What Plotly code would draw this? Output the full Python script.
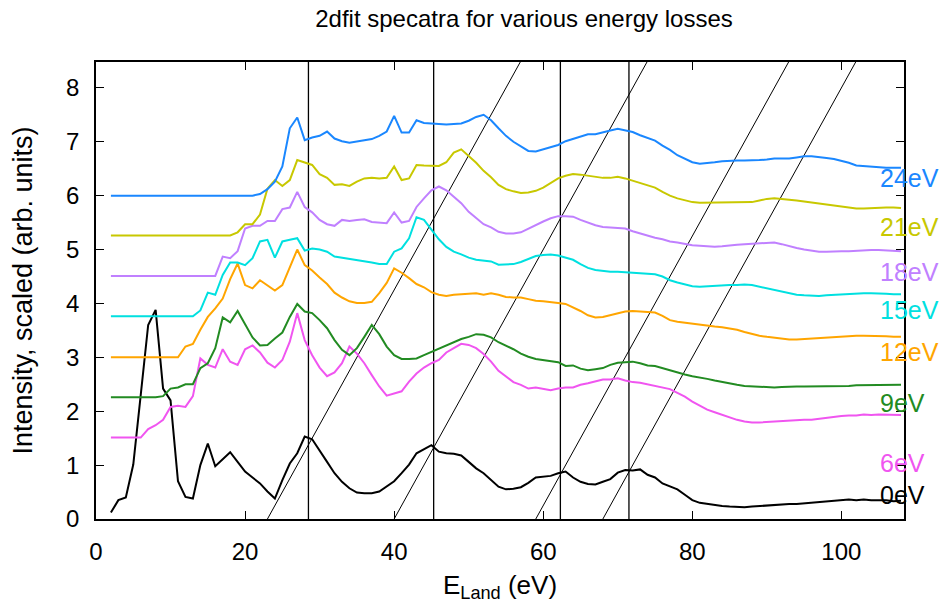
import plotly.graph_objects as go

# Landing energies (eV) of the sampled spectra
e_land = list(range(2, 109))

# Spectra (already offset by loss/4 along the intensity axis)
s_0ev = [
    0.12, 0.35, 0.40, 1.01, 2.30, 3.60, 3.88, 2.42, 2.20, 0.70,
    0.41, 0.38, 1.00, 1.40, 0.98, 1.11, 1.24, 1.06, 0.88, 0.77,
    0.66, 0.51, 0.38, 0.72, 1.03, 1.22, 1.53, 1.48, 1.28, 1.06,
    0.85, 0.69, 0.57, 0.49, 0.48, 0.48, 0.51, 0.60, 0.70, 0.85,
    1.01, 1.22, 1.29, 1.37, 1.25, 1.22, 1.21, 1.18, 1.06, 0.94,
    0.85, 0.72, 0.60, 0.55, 0.56, 0.59, 0.67, 0.77, 0.79, 0.80,
    0.85, 0.88, 0.77, 0.69, 0.65, 0.64, 0.69, 0.74, 0.86, 0.91,
    0.90, 0.92, 0.82, 0.77, 0.66, 0.60, 0.55, 0.45, 0.35, 0.30,
    0.28, 0.25, 0.24, 0.23, 0.22, 0.22, 0.23, 0.24, 0.25, 0.27,
    0.27, 0.28, 0.28, 0.29, 0.30, 0.31, 0.32, 0.33, 0.35, 0.36,
    0.35, 0.36, 0.35, 0.35, 0.35, 0.33, 0.34,
]
s_6ev = [
    1.51, 1.51, 1.51, 1.51, 1.51, 1.67, 1.74, 1.84, 2.08, 2.10,
    2.08, 2.28, 2.98, 2.86, 2.81, 3.15, 2.92, 2.86, 3.15, 3.22,
    3.09, 2.90, 2.81, 2.95, 3.29, 3.82, 3.32, 3.04, 2.81, 2.65,
    2.72, 2.89, 3.20, 3.07, 2.89, 2.67, 2.46, 2.29, 2.33, 2.37,
    2.55, 2.70, 2.81, 2.89, 2.95, 3.09, 3.17, 3.25, 3.23, 3.17,
    3.06, 2.92, 2.75, 2.64, 2.54, 2.49, 2.42, 2.44, 2.41, 2.39,
    2.42, 2.44, 2.44, 2.49, 2.52, 2.56, 2.59, 2.59, 2.61, 2.57,
    2.54, 2.53, 2.50, 2.47, 2.44, 2.41, 2.34, 2.27, 2.18, 2.10,
    2.03, 1.98, 1.93, 1.88, 1.84, 1.81, 1.79, 1.79, 1.80, 1.81,
    1.81, 1.82, 1.83, 1.84, 1.84, 1.86, 1.87, 1.90, 1.91, 1.92,
    1.92, 1.94, 1.93, 1.94, 1.94, 1.93, 1.93,
]
s_9ev = [
    2.26, 2.26, 2.26, 2.26, 2.26, 2.26, 2.26, 2.28, 2.42, 2.44,
    2.50, 2.50, 2.80, 2.89, 3.17, 3.74, 3.65, 3.86, 3.60, 3.37,
    3.22, 3.23, 3.35, 3.46, 3.75, 3.99, 3.85, 3.82, 3.69, 3.54,
    3.32, 3.14, 3.04, 3.17, 3.38, 3.60, 3.43, 3.20, 3.04, 2.97,
    2.97, 2.98, 3.04, 3.10, 3.17, 3.22, 3.29, 3.34, 3.38, 3.43,
    3.42, 3.37, 3.28, 3.22, 3.15, 3.07, 3.01, 2.97, 2.95, 2.94,
    2.91, 2.84, 2.85, 2.79, 2.76, 2.78, 2.80, 2.86, 2.90, 2.91,
    2.92, 2.89, 2.85, 2.84, 2.80, 2.75, 2.72, 2.68, 2.65, 2.63,
    2.60, 2.57, 2.54, 2.51, 2.49, 2.47, 2.46, 2.45, 2.44, 2.44,
    2.45, 2.46, 2.46, 2.46, 2.46, 2.47, 2.47, 2.47, 2.47, 2.47,
    2.48, 2.48, 2.48, 2.49, 2.49, 2.49, 2.49,
]
s_12ev = [
    3.00, 3.00, 3.00, 3.00, 3.00, 3.00, 3.00, 3.00, 3.00, 3.00,
    3.20, 3.25, 3.51, 3.75, 3.91, 4.09, 4.45, 4.74, 4.34, 4.28,
    4.43, 4.34, 4.24, 4.34, 4.68, 5.00, 4.71, 4.61, 4.48, 4.36,
    4.20, 4.11, 4.04, 4.01, 4.01, 4.03, 4.19, 4.38, 4.65, 4.57,
    4.47, 4.36, 4.30, 4.21, 4.16, 4.14, 4.16, 4.17, 4.17, 4.19,
    4.16, 4.19, 4.16, 4.12, 4.11, 4.11, 4.08, 4.05, 4.04, 4.03,
    4.01, 3.99, 3.93, 3.86, 3.78, 3.74, 3.75, 3.78, 3.82, 3.85,
    3.86, 3.85, 3.85, 3.83, 3.77, 3.69, 3.66, 3.64, 3.62, 3.60,
    3.59, 3.57, 3.56, 3.54, 3.51, 3.47, 3.43, 3.40, 3.38, 3.36,
    3.34, 3.33, 3.33, 3.34, 3.35, 3.35, 3.36, 3.38, 3.38, 3.39,
    3.40, 3.40, 3.40, 3.40, 3.39, 3.38, 3.38,
]
s_15ev = [
    3.76, 3.76, 3.76, 3.76, 3.76, 3.76, 3.76, 3.76, 3.76, 3.76,
    3.76, 3.76, 3.87, 4.20, 4.16, 4.53, 4.76, 4.76, 4.71, 4.84,
    5.15, 5.18, 4.85, 5.15, 5.18, 5.21, 4.98, 5.02, 5.00, 4.96,
    4.87, 4.85, 4.82, 4.81, 4.79, 4.76, 4.73, 4.73, 4.96, 5.02,
    5.21, 5.60, 5.55, 5.37, 5.19, 5.05, 4.96, 4.91, 4.85, 4.81,
    4.79, 4.78, 4.72, 4.72, 4.73, 4.77, 4.83, 4.88, 4.90, 4.91,
    4.89, 4.85, 4.81, 4.73, 4.66, 4.62, 4.60, 4.59, 4.59, 4.58,
    4.57, 4.56, 4.55, 4.54, 4.50, 4.43, 4.39, 4.35, 4.32, 4.31,
    4.32, 4.33, 4.33, 4.34, 4.34, 4.35, 4.34, 4.31, 4.28, 4.25,
    4.21, 4.19, 4.16, 4.15, 4.14, 4.14, 4.15, 4.16, 4.17, 4.17,
    4.18, 4.19, 4.19, 4.19, 4.18, 4.17, 4.17,
]
s_18ev = [
    4.51, 4.51, 4.51, 4.51, 4.51, 4.51, 4.51, 4.51, 4.51, 4.51,
    4.51, 4.51, 4.51, 4.51, 4.51, 4.87, 4.84, 4.97, 5.39, 5.44,
    5.44, 5.53, 5.53, 5.75, 5.78, 6.07, 5.79, 5.69, 5.55, 5.47,
    5.44, 5.55, 5.53, 5.55, 5.56, 5.51, 5.50, 5.49, 5.69, 5.50,
    5.53, 5.79, 5.95, 6.10, 6.17, 6.10, 5.98, 5.86, 5.70, 5.59,
    5.47, 5.41, 5.33, 5.30, 5.30, 5.32, 5.39, 5.45, 5.52, 5.58,
    5.62, 5.62, 5.61, 5.55, 5.50, 5.45, 5.42, 5.41, 5.40, 5.39,
    5.34, 5.30, 5.25, 5.22, 5.19, 5.15, 5.13, 5.10, 5.08, 5.07,
    5.06, 5.05, 5.06, 5.08, 5.09, 5.10, 5.11, 5.12, 5.13, 5.13,
    5.10, 5.06, 5.03, 5.00, 4.98, 4.96, 4.96, 4.97, 4.97, 4.97,
    4.98, 4.98, 4.99, 4.99, 4.98, 4.98, 4.97,
]
s_21ev = [
    5.26, 5.26, 5.26, 5.26, 5.26, 5.26, 5.26, 5.26, 5.26, 5.26,
    5.26, 5.26, 5.26, 5.26, 5.26, 5.26, 5.26, 5.32, 5.47, 5.47,
    5.65, 6.13, 6.29, 6.18, 6.29, 6.66, 6.61, 6.57, 6.40, 6.33,
    6.20, 6.21, 6.18, 6.26, 6.32, 6.33, 6.32, 6.33, 6.54, 6.29,
    6.32, 6.57, 6.56, 6.55, 6.55, 6.62, 6.80, 6.86, 6.73, 6.61,
    6.46, 6.34, 6.20, 6.12, 6.08, 6.05, 6.06, 6.09, 6.15, 6.23,
    6.32, 6.37, 6.40, 6.39, 6.37, 6.35, 6.33, 6.33, 6.35, 6.32,
    6.28, 6.24, 6.20, 6.15, 6.07, 6.00, 5.95, 5.91, 5.88, 5.87,
    5.87, 5.87, 5.87, 5.87, 5.87, 5.87, 5.88, 5.91, 5.94, 5.95,
    5.94, 5.93, 5.91, 5.89, 5.87, 5.86, 5.83, 5.81, 5.79, 5.78,
    5.76, 5.76, 5.77, 5.78, 5.78, 5.78, 5.77,
]
s_24ev = [
    6.00, 6.00, 6.00, 6.00, 6.00, 6.00, 6.00, 6.00, 6.00, 6.00,
    6.00, 6.00, 6.00, 6.00, 6.00, 6.00, 6.00, 6.00, 6.00, 6.00,
    6.03, 6.12, 6.26, 6.54, 7.25, 7.45, 7.03, 7.08, 7.11, 7.19,
    7.06, 7.01, 6.98, 7.00, 7.02, 7.05, 7.11, 7.19, 7.48, 7.17,
    7.17, 7.40, 7.35, 7.34, 7.33, 7.32, 7.33, 7.34, 7.39, 7.46,
    7.50, 7.40, 7.25, 7.11, 7.00, 6.91, 6.83, 6.82, 6.86, 6.89,
    6.94, 7.01, 7.05, 7.09, 7.14, 7.14, 7.18, 7.21, 7.24, 7.21,
    7.18, 7.12, 7.07, 7.02, 6.93, 6.85, 6.75, 6.68, 6.62, 6.59,
    6.60, 6.62, 6.64, 6.65, 6.65, 6.65, 6.65, 6.66, 6.67, 6.69,
    6.69, 6.69, 6.71, 6.73, 6.73, 6.72, 6.70, 6.68, 6.65, 6.61,
    6.56, 6.55, 6.54, 6.52, 6.52, 6.52, 6.52,
]

loss_names = ["0eV", "6eV", "9eV", "12eV", "15eV", "18eV", "21eV", "24eV"]
spectra = [s_0ev, s_6ev, s_9ev, s_12ev, s_15ev, s_18ev, s_21ev, s_24ev]
colors = ["#000000", "#f055f0", "#228b22", "#ffa500",
          "#00e0e0", "#c080ff", "#c8c800", "#1a87ff"]
label_y = [0.45, 1.03, 2.15, 3.10, 3.88, 4.59, 5.41, 6.33]

# Peak markers: fixed landing energies and loss-shifted guide lines
peak_e = [28.5, 45.3, 62.3, 71.5]
guide_x0 = [23.0, 40.0, 59.0, 68.0]
guide_slope = 0.25  # vertical offset per eV of loss

x_max = 108.4
y_max = 8.48
font_family = "Liberation Sans, Arial, Helvetica, sans-serif"

fig = go.Figure()

for xv in peak_e:
    fig.add_trace(go.Scatter(x=[xv, xv], y=[0, y_max], mode="lines",
                             line=dict(color="black", width=1.3),
                             hoverinfo="skip", showlegend=False))
for x0 in guide_x0:
    x1 = x0 + y_max / guide_slope
    fig.add_trace(go.Scatter(x=[x0, x1], y=[0, y_max], mode="lines",
                             line=dict(color="black", width=1.0),
                             hoverinfo="skip", showlegend=False))

for name, ys, col in zip(loss_names, spectra, colors):
    fig.add_trace(go.Scatter(x=e_land, y=ys, mode="lines", name=name,
                             line=dict(color=col, width=2),
                             showlegend=False))

for name, ly, col in zip(loss_names, label_y, colors):
    fig.add_annotation(x=104.9, y=ly, xref="x", yref="y", text=name,
                       showarrow=False, xanchor="left", yanchor="middle",
                       font=dict(family=font_family, size=25, color=col))

axis_common = dict(
    showline=True, linecolor="black", linewidth=1.5, mirror="ticks",
    ticks="inside", ticklen=8, tickwidth=1, tickcolor="black",
    showgrid=False, zeroline=False, automargin=False,
    tickfont=dict(family=font_family, size=24, color="black"),
)

fig.update_layout(
    width=944, height=603,
    margin=dict(l=96, r=40, t=62, b=84, pad=0),
    paper_bgcolor="white", plot_bgcolor="white",
    title=dict(text="2dfit specatra for various energy losses",
               x=500 / 944, xanchor="center", xref="paper",
               y=1 - 19 / 603, yref="container", yanchor="middle",
               font=dict(family=font_family, size=24, color="black")),
    xaxis=dict(range=[0, x_max], tickvals=[0, 20, 40, 60, 80, 100],
               ticklabelstandoff=10,
               title=dict(text="E<sub>Land</sub> (eV)", standoff=12,
                          font=dict(family=font_family, size=26, color="black")),
               **axis_common),
    yaxis=dict(range=[0, y_max], tickvals=list(range(0, 9)),
               ticklabelstandoff=10,
               title=dict(text="Intensity, scaled (arb. units)", standoff=26,
                          font=dict(family=font_family, size=27, color="black")),
               **axis_common),
)

fig.write_html("out.html")
